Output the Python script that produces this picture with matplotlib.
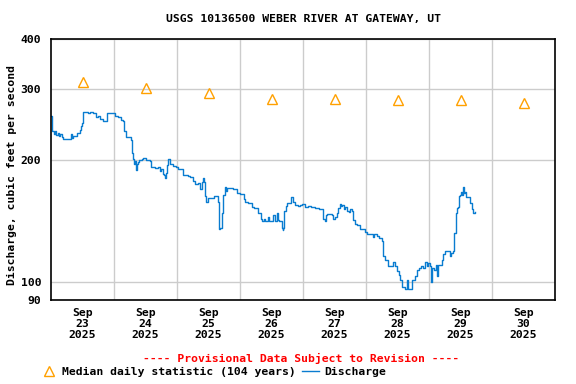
import numpy as np
import matplotlib
matplotlib.use('Agg')
import matplotlib.pyplot as plt
import matplotlib.dates as mdates
from matplotlib.lines import Line2D
from datetime import datetime, timedelta

# discharge, hours after Sep 23 2025 00:00 and cfs
hours = [0.0, 0.3, 1.0, 1.5, 2.0, 2.5, 3.0, 3.5, 4.0, 4.7, 6.0, 7.0, 7.5, 7.9, 8.4,
         9.1, 10.0, 11.0, 11.5, 11.9, 12.1, 12.3, 14.0, 15.0, 16.1, 17.0, 18.0, 18.5,
         19.9, 21.0, 21.5, 23.7, 24.5, 25.6, 26.5, 27.5, 27.8, 28.5, 29.5, 30.0, 30.5,
         30.7, 31.0, 31.3, 31.8, 32.1, 32.4, 32.7, 33.0, 33.5, 34.5, 35.2, 36.0, 37.0,
         37.7, 38.0, 38.4, 39.5, 40.9, 41.5, 42.0, 42.5, 43.0, 43.4, 43.8, 44.1, 44.6,
         45.1, 45.5, 46.5, 47.5, 48.2, 49.1, 50.4, 52.0, 53.0, 54.2, 55.0, 56.0, 56.8,
         57.5, 58.0, 58.3, 58.7, 59.2, 59.9, 61.0, 62.0, 62.5, 63.5, 63.7, 64.1, 64.4,
         65.0, 65.6, 66.3, 66.6, 66.9, 68.2, 69.5, 70.7, 72.0, 72.7, 73.5, 73.9, 75.0,
         76.5, 77.5, 79.0, 80.0, 80.3, 81.0, 81.5, 82.0, 82.7, 83.2, 84.0, 84.5, 85.3,
         86.0, 86.5, 87.0, 87.9, 88.3, 88.5, 88.9, 89.5, 90.0, 91.1, 91.6, 92.0, 93.0,
         94.0, 94.9, 95.5, 96.8, 98.0, 99.0, 100.6, 102.0, 103.5, 103.8, 104.2, 104.6,
         105.0, 106.0, 107.0, 107.6, 108.2, 108.9, 109.5, 110.1, 110.5, 111.0, 111.5,
         112.0, 112.8, 113.5, 113.9, 114.5, 114.9, 115.8, 116.5, 117.7, 118.5, 119.5,
         120.3, 121.5, 122.5, 123.0, 124.1, 125.0, 126.0, 126.3, 127.3, 128.0, 128.5,
         129.5, 130.4, 131.0, 131.7, 132.5, 133.0, 133.6, 134.9, 135.5, 136.1, 137.0,
         137.4, 138.7, 139.5, 140.0, 141.0, 141.8, 142.5, 143.1, 143.7, 144.4, 144.7,
         145.0, 146.0, 146.5, 146.9, 147.3, 147.6, 148.9, 149.5, 150.1, 151.0, 152.0,
         152.5, 153.3, 153.7, 154.1, 154.6, 155.2, 155.6, 155.8, 156.3, 156.6, 156.9,
         157.2, 157.7, 158.2, 159.0, 159.6, 160.3, 160.8, 161.5]
cfs = [257, 236, 233, 236, 231, 234, 230, 233, 229, 226, 226, 226, 232, 227, 230,
       230, 234, 238, 243, 248, 258, 263, 262, 263, 262, 256, 258, 253,
       251, 250, 262, 262, 258, 256, 252, 250, 236, 229, 228, 228, 224,
       212, 208, 202, 196, 199, 189, 196, 198, 200, 201, 203, 200, 200,
       199, 193, 193, 191, 192, 188, 190, 185, 184, 181, 186, 195, 202,
       201, 196, 194, 193, 190, 190, 184, 183, 182, 178, 175, 176, 170,
       177, 181, 177, 163, 158, 161, 161, 163, 163, 162, 158, 135, 136,
       148, 164, 172, 168, 171, 171, 170, 166, 165, 165, 160, 158, 157,
       153, 152, 148, 143, 141, 143, 141, 141, 145, 141, 141, 146, 141,
       148, 142, 141, 136, 134, 136, 150, 154, 157, 157, 162, 158, 155,
       154, 155, 156, 153, 154, 153, 152, 151, 151, 143, 141, 146,
       147, 147, 146, 143, 145, 148, 152, 156, 154, 155, 151,
       153, 150, 149, 151, 150, 142, 139, 138, 135, 135, 133,
       131, 131, 129, 131, 130, 128, 126, 116, 113, 113, 109,
       109, 112, 109, 106, 104, 101, 97, 96, 101, 96, 96,
       101, 103, 107, 108, 109, 108, 112, 109, 111, 109, 100,
       108, 107, 110, 103, 108, 110, 113, 117, 119, 119, 116,
       118, 119, 132, 148, 152, 153, 163, 164, 167, 164, 172,
       166, 167, 162, 162, 157, 151, 148, 149]

# median daily statistic (104 years), at noon of each day
median_days = [23, 24, 25, 26, 27, 28, 29, 30]
median_cfs = [313, 302, 293, 284, 284, 282, 282, 277]

y_ticks = [90, 100, 200, 300, 400]

start = datetime(2025, 9, 23)
t = [start + timedelta(hours=h) for h in hours]
t_med = [datetime(2025, 9, d, 12) for d in median_days]

mono = 'DejaVu Sans Mono'
fs = 8.2
blue = '#0a7cd0'
orange = '#ffa000'

fig = plt.figure(figsize=(5.76, 3.84), dpi=100, facecolor='w')
ax = fig.add_axes([51/576, 1 - 300/384, (555 - 51)/576, (300 - 39)/384])

ax.plot(t, cfs, '-', color=blue, lw=1.0, drawstyle='steps-post')
ax.plot(t_med, median_cfs, '^', ms=7, mfc='none', mec=orange, mew=1.0)

ax.set_yscale('log')
ax.set_ylim(90, 400)
ax.set_yticks(y_ticks)
ax.set_yticklabels([str(v) for v in y_ticks])
ax.yaxis.set_minor_locator(matplotlib.ticker.NullLocator())

ax.set_xlim(start, datetime(2025, 10, 1))
ax.set_xticks(t_med)
ax.set_xticklabels(['Sep\n%d\n2025' % d for d in median_days], linespacing=1.1)
ax.set_xticks([datetime(2025, 9, d) for d in range(24, 31)], minor=True)

ax.grid(True, which='major', axis='y', color='#cccccc', lw=1)
ax.grid(True, which='minor', axis='x', color='#cccccc', lw=1)
ax.tick_params(which='both', length=0)
ax.tick_params(axis='x', pad=6)
ax.tick_params(axis='y', pad=7)
for lab in ax.get_xticklabels() + ax.get_yticklabels():
    lab.set_fontfamily(mono)
    lab.set_fontweight('bold')
    lab.set_fontsize(fs)
for s in ax.spines.values():
    s.set_linewidth(1.2)

fig.text(303/576, 1 - 19/384, 'USGS 10136500 WEBER RIVER AT GATEWAY, UT', ha='center', va='center',
         family=mono, weight='bold', fontsize=fs)
fig.text(12/576, 1 - 175/384, 'Discharge, cubic feet per second', ha='center', va='center',
         rotation='vertical', family=mono, weight='bold', fontsize=fs)
fig.text(301/576, 1 - 358/384, '---- Provisional Data Subject to Revision ----', ha='center',
         va='center', color='red', family=mono, weight='bold', fontsize=fs)

handles = [Line2D([], [], ls='none', marker='^', ms=7, mfc='none', mec=orange),
           Line2D([], [], color=blue, lw=1.0)]
fig.legend(handles, ['Median daily statistic (104 years)', 'Discharge'], ncol=2,
           loc='center left', bbox_to_anchor=(40/576, 1 - 372/384), frameon=False,
           prop={'family': mono, 'weight': 'bold', 'size': fs},
           handlelength=1.5, handletextpad=0.4, columnspacing=0.6, borderpad=0, borderaxespad=0)

plt.savefig('out.png', dpi=100)
